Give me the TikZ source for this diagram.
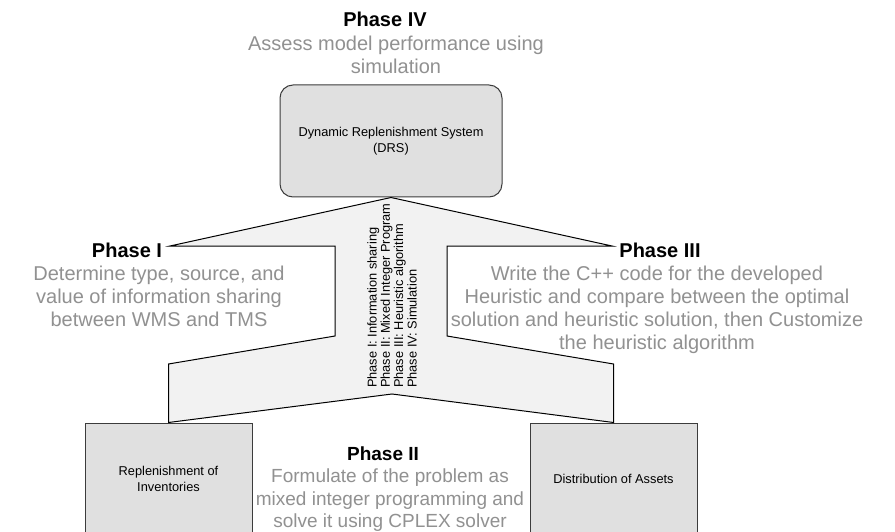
\documentclass[tikz,border=0pt]{standalone}
\usepackage{fontspec}
\setmainfont{Liberation Sans}
\usetikzlibrary{positioning, calc}
\definecolor{boxfill}{RGB}{224, 224, 224}
\definecolor{boxframe}{RGB}{60, 60, 60}
\definecolor{arrowfill}{RGB}{242, 242, 242}
\definecolor{desccolor}{RGB}{145, 145, 145}

\begin{document}
\begin{tikzpicture}[
    x=1pt, y=-1pt,
    system/.style={rectangle, rounded corners=13pt, draw=boxframe, fill=boxfill, line width=1pt, minimum width=222pt, minimum height=112pt, align=center, font=\fontsize{12.8}{16}\selectfont},
    block/.style={rectangle, draw=boxframe, fill=boxfill, line width=1pt, minimum width=167pt, minimum height=112pt, align=center, font=\fontsize{12.8}{15.5}\selectfont},
    phase/.style={anchor=base, inner sep=0pt, font=\fontsize{20}{23}\selectfont\bfseries},
    desc/.style={anchor=north, inner sep=0pt, align=center, text=desccolor, font=\fontsize{20}{23}\selectfont},
    legend/.style={inner sep=0pt, align=left, font=\fontsize{12.8}{13.3}\selectfont},
    bigarrow/.style={draw=black, fill=arrowfill, line width=1pt, line join=miter}
    ]
    \useasboundingbox[fill=white] (0,0) rectangle (895,532);

    % Boxes
    \node[system] (drs) at (391,141) {Dynamic Replenishment System\\(DRS)};
    \node[block] (rep) at (168.5,479) {Replenishment of\\Inventories};
    \node[block] (dist) at (613.5,479) {Distribution of Assets};

    % Big arrow
    \draw[bigarrow] (drs.south) -- (612,246) -- (447,246) -- (447,336) -- (613.5,364) -- (dist.north)
      -- (392,394) -- (rep.north) -- (168.5,364) -- (335,336) -- (335,246) -- (170,246) -- cycle;
    \node[legend, rotate=90, anchor=west] (phases) at (392,388) {Phase I: Information sharing\\Phase II: Mixed Integer Program\\Phase III: Heuristic algorithm\\Phase IV: Simulation};

    % Phases
    \node[phase] (lbl4) at (385,27) {Phase IV};
    \node[desc] (txt4) at (396,35.4) {Assess model performance using\\simulation};

    \node[phase] (lbl1) at (127,257) {Phase I};
    \node[desc] (txt1) at (159,265.5) {Determine type, source, and\\value of information sharing\\between WMS and TMS};

    \node[phase] (lbl3) at (660,257) {Phase III};
    \node[desc] (txt3) at (657,265.4) {Write the C++ code for the developed\\Heuristic and compare between the optimal\\solution and heuristic solution, then Customize\\the heuristic algorithm};

    \node[phase, font=\fontsize{19}{22.5}\selectfont\bfseries] (lbl2) at (383,460) {Phase II};
    \node[desc, font=\fontsize{19}{22.5}\selectfont] (txt2) at (390,469) {Formulate of the problem as\\mixed integer programming and\\solve it using CPLEX solver};
  \end{tikzpicture}
\end{document}
